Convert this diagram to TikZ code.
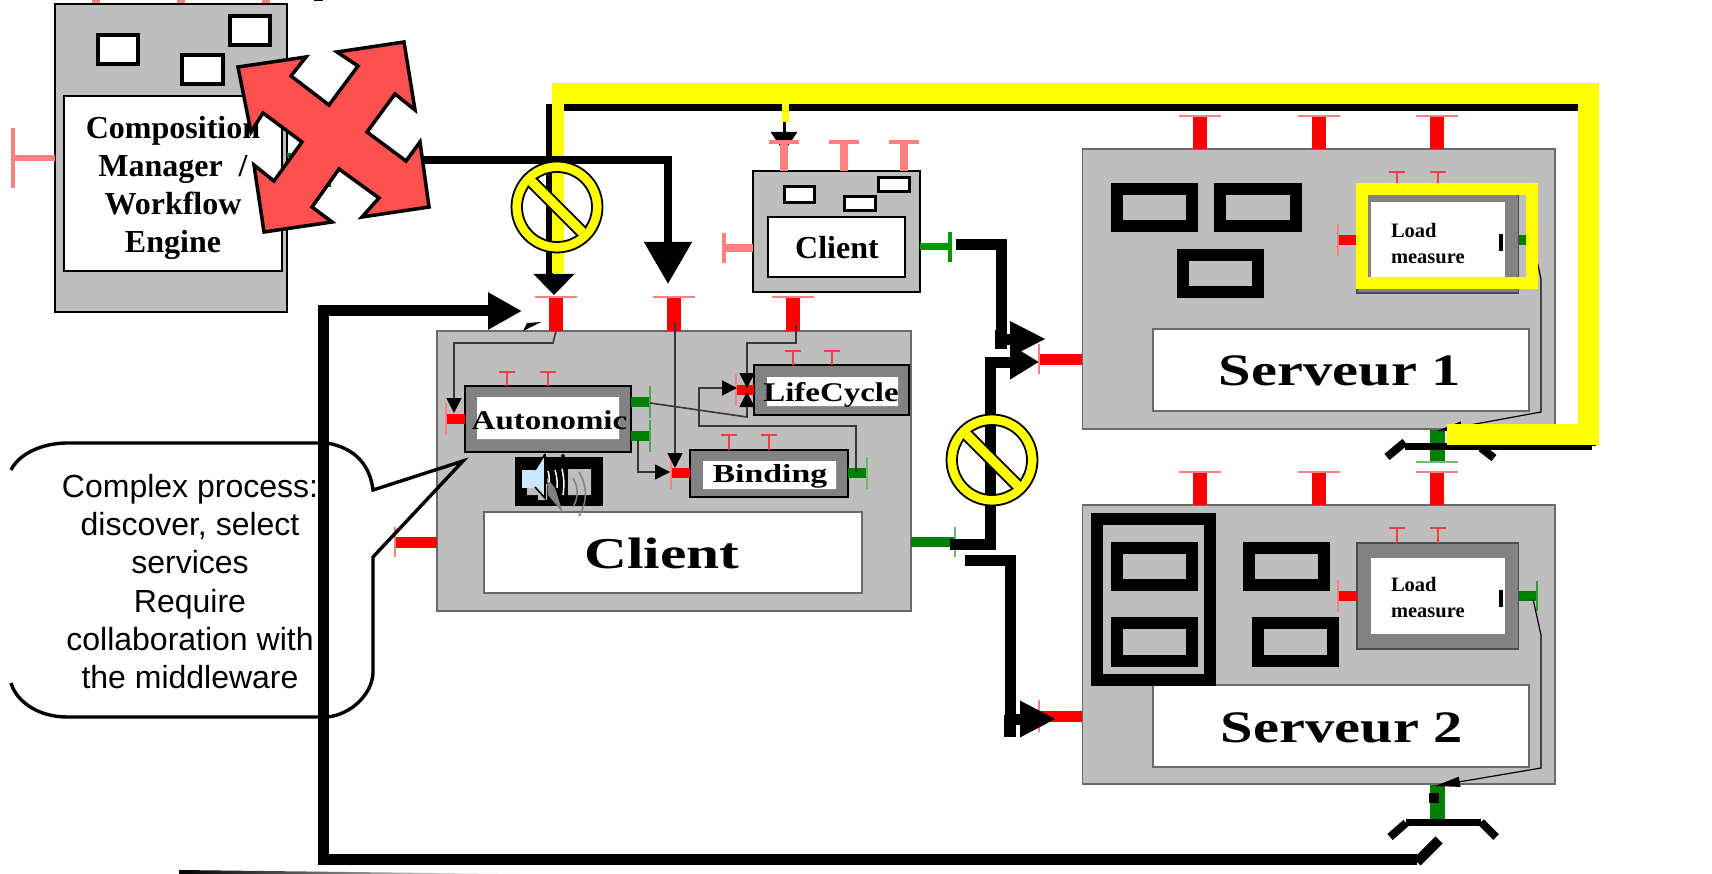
\documentclass[tikz,border=0pt]{standalone}
\usepackage{fontspec}
\setmainfont{Liberation Serif}
\newfontfamily\arialfont{Liberation Sans}
\usetikzlibrary{arrows.meta}
\definecolor{panelgray}{HTML}{BEBEBE}
\definecolor{edgegray}{HTML}{6A6A6A}
\definecolor{softred}{HTML}{FF8080}
\definecolor{midred}{HTML}{F04040}
\definecolor{darkgreen}{HTML}{008000}
\definecolor{softgreen}{HTML}{70B870}
\definecolor{crossred}{HTML}{FF5050}
\definecolor{speakerblue}{HTML}{CCE8FF}
\definecolor{busyellow}{RGB}{255,255,0}
\definecolor{purered}{RGB}{255,0,0}
\tikzstyle{grayPanel} = [draw=edgegray, fill=panelgray, line width=1.8pt]
\tikzstyle{darkPanel} = [grayPanel, draw=black, line width=1.5pt]
\tikzstyle{whitePanel} = [grayPanel, fill=white, line width=1.6pt]
\tikzstyle{innerPanel} = [draw=black, fill=gray!98, line width=1.5pt]
\tikzstyle{frameBox} = [draw=black, fill=panelgray, line width=12pt]
\tikzstyle{hole} = [draw=black, fill=white, line width=3.5pt]
\tikzstyle{plainText} = [inner sep=0pt, outer sep=0pt]
\tikzstyle{bigLine} = [draw=black, line width=11pt]
\tikzstyle{thinArrow} = [draw=black!78, line width=1.6pt, -{Triangle[length=15pt,width=15pt,color=black]}]
\tikzstyle{redStem} = [draw=purered, line width=14pt]
\tikzstyle{redBar} = [draw=softred, line width=2pt]
\tikzstyle{smallStem} = [draw=midred, line width=2pt]
\tikzstyle{pinkStem} = [draw=softred, line width=7.5pt]
\tikzstyle{pinkBar} = [draw=softred, line width=3.5pt]
\tikzstyle{greenStem} = [draw=darkgreen, line width=10pt]
\tikzstyle{greenBar} = [draw=softgreen, line width=2pt]
\newcommand{\panel}[6]{\node[#1,anchor=north west,inner sep=0pt,outer sep=0pt,
  minimum width={(#5-#3)*1pt},minimum height={(#6-#4)*1pt}] (#2) at (#3,#4)}
\newcommand{\tee}[8]{\draw[#1] (#3,#4) -- (#5,#6); \draw[#2] (#7) -- (#8);}
\newcommand{\vtee}[6]{\tee{#1}{#2}{#3}{#4}{#3}{#5}{#3-#6,#5}{#3+#6,#5}}
\newcommand{\htee}[6]{\tee{#1}{#2}{#3}{#5}{#4}{#5}{#4,#5-#6}{#4,#5+#6}}
\newcommand{\bfsize}[1]{\fontsize{#1}{#1}\selectfont\bfseries}
\newcommand{\noentry}[3]{
  \begin{scope}[shift={(#2,#3)}]
    \draw[fill=busyellow, even odd rule, line width=1.8pt] (0,0) circle (45.5pt) (0,0) circle (35pt);
    \begin{scope}
      \clip (0,0) circle (36pt);
      \node[draw=black, fill=busyellow, line width=1.8pt, rotate=-45, minimum width=90pt,
        minimum height=11.5pt, inner sep=0pt] (#1) at (0,0) {};
    \end{scope}
  \end{scope}}

\begin{document}
\begin{tikzpicture}[x=1pt,y=-1pt]
  \useasboundingbox (0,0) rectangle (1712,874);

  % composition manager
  \foreach \px in {96,181,266} { \draw[pinkStem] (\px,0) -- (\px,3); }
  \fill (314,0) rectangle (323,1.5);
  \panel{darkPanel, fill=panelgray}{manager}{55}{4}{287}{312}{};
  \panel{whitePanel, draw=black}{managerText}{64}{96}{282}{271}{};
  \node[plainText, align=center, font=\fontsize{32}{38}\selectfont\bfseries] (managerLabel) at (173,187.5)
    {Composition\\Manager~~/\\Workflow\\Engine};
  \panel{hole}{holeA}{98}{35}{138}{64}{};
  \panel{hole}{holeB}{182}{55}{223}{84}{};
  \panel{hole}{holeC}{230}{16}{270}{45}{};
  \htee{pinkStem, line width=6pt}{pinkBar}{55}{13}{158}{30}
  \fill[darkgreen] (287,153) rectangle (291,157) (328,184) rectangle (331,187);

  % large client
  \panel{grayPanel}{client}{437}{331}{911}{611}{};
  \panel{whitePanel}{clientText}{484}{512}{862}{593}{};
  \node[plainText, anchor=base, font=\bfsize{44}] (clientLabel) at (662,568) {\scalebox{1.35}[1]{Client}};
  \foreach \px in {556,674,793} { \vtee{redStem}{redBar}{\px}{331}{297}{21} }
  \htee{redStem, line width=11pt}{redBar}{437}{395}{542}{15}
  \htee{greenStem}{greenBar}{911}{955}{542}{15}

  % sub components
  \panel{innerPanel}{autonomic}{465}{386}{631}{452}{};
  \panel{innerPanel}{lifecycle}{754}{365}{909}{415}{};
  \panel{innerPanel}{binding}{690}{450}{848}{497}{};
  \fill[white] (477,397) rectangle (619,439) (767,377) rectangle (898,406) (703,461) rectangle (836,489);
  \node[plainText, anchor=base, font=\bfsize{27}] (autonomicLabel) at (549.5,429) {\scalebox{1.22}[1]{Autonomic}};
  \node[plainText, anchor=base, font=\bfsize{27}] (lifecycleLabel) at (831,401) {\scalebox{1.22}[1]{LifeCycle}};
  \node[plainText, anchor=base, font=\bfsize{26}] (bindingLabel) at (770,482) {\scalebox{1.3}[1]{Binding}};
  \foreach \px in {507,548} { \vtee{smallStem}{smallStem}{\px}{386}{372}{8} }
  \foreach \px in {793,832} { \vtee{smallStem}{smallStem}{\px}{365}{351}{8} }
  \foreach \px in {729,769} { \vtee{smallStem}{smallStem}{\px}{450}{435}{8} }
  \htee{redStem, line width=10pt}{redBar}{465}{446}{419}{16}
  \htee{redStem, line width=10pt}{redBar}{754}{736}{390}{16}
  \htee{redStem, line width=10pt}{redBar}{690}{671}{473}{16}
  \htee{greenStem}{greenBar, draw=darkgreen!70}{631}{650}{402}{16}
  \htee{greenStem}{greenBar, draw=darkgreen!70}{631}{650}{436}{16}
  \htee{greenStem}{greenBar}{848}{867}{473}{16}

  % sound icon
  \fill (515,457) rectangle (603,506);
  \fill (563,456) circle (2pt);
  \fill[panelgray] (568,469) rectangle (591,495) (527,484) rectangle (547,495) (538,495) rectangle (547,500);
  \draw[fill=speakerblue, line width=0pt, draw=speakerblue] (522,470) -- (535,470) -- (545,455) -- (545,498) -- (535,487) -- (522,487) -- cycle;
  \draw[line width=1.6pt] (545,454) -- (535,470) (535,487) -- (545,498) -- (545,454);
  \fill[gray] (547,478) -- (555,488) -- (563,513) -- (548,495) -- cycle;
  \draw[white, line width=1.5pt] (548,471) to[bend left=10] (549,482) (555,470) to[bend left=10] (557,488) (562,469) to[bend left=10] (563,495);
  \draw[gray, line width=1.5pt] (573,478) to[bend left=30] (573,507) (579,472) to[bend left=30] (579,516);

  % small client
  \panel{darkPanel, fill=panelgray, line width=2pt}{smallClient}{753}{171}{920}{292}{};
  \panel{whitePanel, draw=black}{smallClientText}{768}{217}{905}{277}{};
  \node[plainText, anchor=base, font=\bfsize{32}] (smallClientLabel) at (837,259) {Client};
  \panel{hole, line width=3pt}{smallHoleA}{784.5}{186.5}{814.5}{202.5}{};
  \panel{hole, line width=3pt}{smallHoleB}{844.5}{196.5}{875}{211}{};
  \panel{hole, line width=3pt}{smallHoleC}{878.5}{177.5}{909}{192}{};

  % servers
  \panel{grayPanel}{serverOne}{1082.5}{149}{1555}{429}{};
  \panel{whitePanel}{serverOneText}{1153}{329}{1529}{411}{};
  \node[plainText, anchor=base, font=\bfsize{45}] (serverOneLabel) at (1340,385) {\scalebox{1.3}[1]{Serveur 1}};
  \panel{frameBox}{frameA}{1117}{189}{1191.5}{226}{};
  \panel{frameBox}{frameB}{1220}{189}{1296}{226}{};
  \panel{frameBox}{frameC}{1183}{255}{1258}{292}{};

  \panel{grayPanel}{serverTwo}{1082.5}{505}{1555}{784}{};
  \panel{whitePanel}{serverTwoText}{1153}{685}{1529}{767}{};
  \node[plainText, anchor=base, font=\bfsize{45}] (serverTwoLabel) at (1342,742) {\scalebox{1.3}[1]{Serveur 2}};
  \panel{frameBox}{frameD}{1097}{519}{1210}{680}{};
  \panel{frameBox}{frameE}{1117}{548}{1191.5}{585}{};
  \panel{frameBox}{frameF}{1117}{623}{1191.5}{661}{};
  \panel{frameBox}{frameG}{1249}{548}{1324}{585}{};
  \panel{frameBox}{frameH}{1258}{623}{1333}{661}{};

  \foreach \py/\name/\ty in {187/loadOne/244,543/loadTwo/598} {
    \panel{innerPanel, draw=black!70}{\name}{1357}{\py}{1518.5}{\py+106}{};
    \fill[white] (1371,\py+15) rectangle (1505,\py+91);
    \node[plainText, anchor=west, align=left, font=\fontsize{20.5}{26}\selectfont\bfseries] (\name Label) at (1391,\ty) {Load\\measure};
    \fill (1499,\py+47) rectangle (1503,\py+64);
    \foreach \px in {1397,1438} { \vtee{smallStem}{smallStem}{\px}{\py}{\py-15}{8} }
    \htee{redStem, line width=10pt}{redBar}{1357}{1338}{\py+53}{16}
    \htee{greenStem}{greenBar, draw=darkgreen!80}{1518.5}{1537}{\py+53}{15}
    \coordinate (\name Out) at (1533,\py+56);
    \coordinate (\name Bend) at (1541,\py+92);
  }
  \foreach \py in {149,505} {
    \foreach \px in {1200,1319,1437} { \vtee{redStem, line width=14pt}{redBar}{\px}{\py}{\py-33}{21} }
  }
  \htee{redStem, line width=11pt}{redBar}{1082}{1039}{359}{15}
  \htee{redStem, line width=11pt}{redBar}{1082}{1039}{716}{16}
  \vtee{greenStem, line width=15pt}{greenBar}{1437}{430}{462}{21}
  \draw[greenStem, line width=15pt] (1437,785) -- (1437,822);
  \fill (1429,793) rectangle (1439,803);

  % probes
  \coordinate (probeOne) at (1541,412);
  \coordinate (probeTwo) at (1541,768);
  \draw[thinArrow, draw=black, line width=1.2pt, -{Triangle[length=25pt,width=10pt]}] (loadOneOut) -- (loadOneBend) -- (probeOne) -- (1437,431);
  \draw[thinArrow, draw=black, line width=1.2pt, -{Triangle[length=25pt,width=10pt]}] (loadTwoOut) -- (loadTwoBend) -- (probeTwo) -- (1435,786);

  % arrows inside large client
  \draw[thinArrow] (556,331) -- (553,343) -- (454,343) -- (454,413);
  \draw[thinArrow] (675,323) -- (675,468);
  \draw[thinArrow] (796,325) -- (796,343) -- (747,343) -- (747,388);
  \draw[thinArrow] (650,403) -- (747,417) -- (747,392);
  \draw[thinArrow] (638,440) -- (638,472) -- (670,472);
  \draw[thinArrow] (856,472) -- (856,426) -- (699,426) -- (699,388) -- (737,388);

  % buses
  \draw[bigLine, line width=7pt] (1592,446) -- (1592,107.5) -- (549,107.5) -- (549,280);
  \draw[draw=black, line width=1pt, -{Triangle[length=21pt,width=41pt]}] (554,274) -- (554,295);
  \draw[draw=black, line width=3pt, -{Triangle[length=20pt,width=26pt]}] (784,105) -- (784,152);
  \foreach \px in {784,844,904} { \vtee{pinkStem}{pinkBar}{\px}{171}{142}{15} }
  \htee{pinkStem}{pinkBar}{753}{724}{248}{15}
  \htee{greenStem, draw=green!60!black, line width=7pt}{greenBar, draw=green!60!black, line width=4pt}{920}{950}{247}{15}

  \draw[bigLine, -{Triangle[length=36pt,width=33pt]}] (956,245) -- (1001,245) -- (1001,339) -- (1046,339);
  \draw[bigLine, -{Triangle[length=29pt,width=33pt]}] (950,544) -- (990,544) -- (990,362) -- (1039,362);
  \draw[bigLine, -{Triangle[length=36pt,width=34pt]}] (965,560) -- (1010,560) -- (1010,719) -- (1056,719);
  \draw[bigLine, line width=12pt] (1010,715) -- (1010,737);
  \draw[bigLine, line width=12pt] (1001,330) -- (1001,349);

  \draw[bigLine, -{Triangle[length=34pt,width=35pt]}] (1417,859) -- (323,859) -- (323,311) -- (522,311);
  \fill (523,331) -- (527,323) -- (541,322) -- cycle;
  \draw[bigLine, line width=8pt] (1387,457) -- (1405,442);
  \draw[bigLine, line width=8pt] (1481,448) -- (1494,458);
  \draw[bigLine, line width=7pt] (1405,446) -- (1592,446);
  \draw[bigLine, line width=7pt] (1406,822) -- (1481,822);
  \draw[bigLine, line width=8pt] (1406,823) -- (1390,837);
  \draw[bigLine, line width=8pt] (1481,822) -- (1496,837);
  \draw[bigLine, line width=10pt] (1417,862) -- (1439,840);

  % yellow route
  \draw[draw=busyellow, line width=12pt] (558,273) -- (558,83);
  \draw[draw=busyellow, line width=21pt, line join=miter] (552,93.5) -- (1588.5,93.5) -- (1588.5,434.5) -- (1447,434.5);
  \draw[draw=busyellow, line width=7pt] (785.5,104) -- (785.5,122);
  \draw[draw=busyellow, line width=12pt] (1362,189) rectangle (1532,283);

  \draw[bigLine, line width=8pt, -{Triangle[length=42pt,width=46pt]}] (423,160) -- (668,160) -- (668,284);
  \noentry{stopOne}{557}{207}
  \noentry{stopTwo}{992}{460}

  % callout
  \draw[line width=3.4pt, line join=miter] (11,470) .. controls (20,452) and (45,443) .. (67,443) -- (327,443)
    .. controls (355,448) and (370,465) .. (373,490) -- (463,461) -- (373,557) -- (373,673)
    .. controls (372,695) and (350,715) .. (327,717) -- (67,717) .. controls (40,717) and (17,703) .. (11,683);
  \node[plainText, align=center, font=\arialfont\fontsize{32}{38.3}\selectfont] (calloutText) at (190,581.5)
    {Complex process:\\discover, select\\services\\Require\\collaboration with\\the middleware};

  % fading line at the bottom
  \shade[left color=black, right color=white] (179,870) -- (520,874) -- (179,874) -- cycle;

  % move arrows
  \draw[fill=crossred, line width=3.5pt, line join=miter] (238,67) -- (306,57) -- (291,76) -- (329,105) -- (358,66) -- (337,52)
    -- (404,42) -- (415,110) -- (395,94) -- (367,132) -- (406,161) -- (420,142) -- (429,207) -- (362,217)
    -- (379,198) -- (339,169) -- (312,207) -- (332,222) -- (264,232) -- (254,165) -- (274,181) -- (302,142)
    -- (263,113) -- (251,132) -- cycle;
\end{tikzpicture}
\end{document}
